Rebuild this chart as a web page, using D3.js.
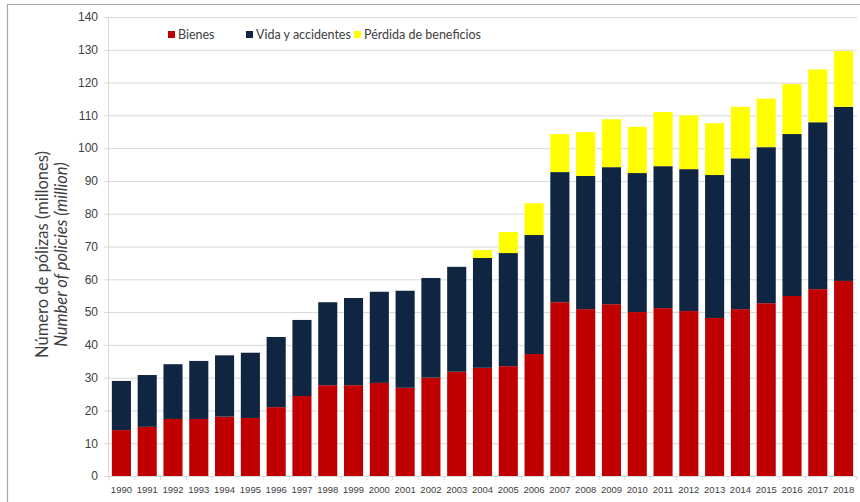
<!DOCTYPE html>
<html>
<head>
<meta charset="utf-8">
<script src="https://cdn.jsdelivr.net/npm/d3@7"></script>
<style>
  body { margin: 0; background: #fff; }
  svg { display: block; font-family: Lato, "Open Sans", sans-serif; }
</style>
</head>
<body>
<div id="chart"></div>
<script>
// data (millions of policies)
const years = ["1990","1991","1992","1993","1994","1995","1996","1997","1998","1999",
  "2000","2001","2002","2003","2004","2005","2006","2007","2008","2009",
  "2010","2011","2012","2013","2014","2015","2016","2017","2018"];
const bienes = [14, 15, 17.4, 17.4, 18.1, 17.7, 21, 24.4, 27.7, 27.7,
  28.4, 26.9, 30, 31.8, 33, 33.5, 37.2, 53, 50.9, 52.4,
  50, 51.2, 50.3, 48.2, 50.9, 52.7, 54.9, 57, 59.5];
const vida = [15, 15.8, 16.7, 17.7, 18.7, 19.9, 21.4, 23.2, 25.3, 26.6,
  27.8, 29.6, 30.4, 32, 33.5, 34.5, 36.3, 39.7, 40.6, 41.8,
  42.4, 43.3, 43.3, 43.6, 46, 47.6, 49.4, 50.9, 53.1];
const perdida = [0, 0, 0, 0, 0, 0, 0, 0, 0, 0,
  0, 0, 0, 0, 2.4, 6.4, 9.7, 11.6, 13.4, 14.6,
  14.1, 16.5, 16.4, 15.8, 15.7, 14.8, 15.2, 16.1, 17];
const seriesNames = ["Bienes", "Vida y accidentes", "Pérdida de beneficios"];
const colors = ["#c00000", "#0f2541", "#ffff00"];
const yTicks = d3.range(0, 141, 10);

const W = 860, H = 502;
const margin = { top: 17, right: 3, bottom: 26, left: 108 };
const width = W - margin.left - margin.right,
      height = H - margin.top - margin.bottom;

const svg = d3.select("#chart").append("svg")
  .attr("width", W).attr("height", H);

// outer frame (left and top edges visible)
svg.append("path")
  .attr("d", "M7.5,502 V4.5 H860")
  .attr("fill", "none").attr("stroke", "#a6a6a6").attr("stroke-width", 1.2);

const g = svg.append("g").attr("transform", `translate(${margin.left},${margin.top})`);

const x = d3.scaleBand().domain(years).range([0, width])
  .paddingInner(0.26).paddingOuter(0.15);
const y = d3.scaleLinear().domain([0, 140]).range([height, 0]);

// gridlines
g.append("g").selectAll("line").data(yTicks.filter(d => d > 0)).join("line")
  .attr("x1", 0).attr("x2", width)
  .attr("y1", d => y(d) + 0.5).attr("y2", d => y(d) + 0.5)
  .attr("stroke", "#d9d9d9").attr("stroke-width", 1);

// y axis
const yAxis = g.append("g").call(d3.axisLeft(y).tickValues(yTicks).tickSize(4).tickPadding(6));
yAxis.select(".domain").attr("stroke", "#d9d9d9");
yAxis.selectAll(".tick line").attr("stroke", "#d9d9d9");
yAxis.selectAll("text").attr("fill", "#404040").style("font-size", "12px");

// stacked bars
const rows = years.map((yr, i) => ({ year: yr, b: bienes[i], v: vida[i], p: perdida[i] }));
const stack = d3.stack().keys(["b", "v", "p"])(rows);

g.append("g").selectAll("g").data(stack).join("g")
  .attr("fill", (d, i) => colors[i])
  .selectAll("rect").data(d => d).join("rect")
  .attr("x", d => x(d.data.year))
  .attr("y", d => y(d[1]))
  .attr("width", x.bandwidth())
  .attr("height", d => y(d[0]) - y(d[1]));

// x axis
const xAxis = g.append("g").attr("transform", `translate(0,${height})`)
  .call(d3.axisBottom(x).tickSize(0).tickPadding(10));
xAxis.select(".domain").attr("stroke", "#d9d9d9");
xAxis.selectAll("text").attr("fill", "#404040").style("font-size", "9.5px");
// small ticks between categories
const sep = i => i * x.step() - x.step() * (x.paddingInner() / 2) + x.step() * x.paddingOuter() + 0.5;
g.append("g").selectAll("line").data(d3.range(years.length + 1)).join("line")
  .attr("x1", sep).attr("x2", sep)
  .attr("y1", height).attr("y2", height + 4)
  .attr("stroke", "#d9d9d9");

// y axis title
const title = svg.append("text")
  .attr("transform", `translate(48,${margin.top + height / 2 + 8}) rotate(-90)`)
  .attr("text-anchor", "middle").attr("fill", "#404040").style("font-size", "16.5px");
title.append("tspan").attr("x", 0).attr("dy", 0).text("Número de pólizas (millones)");
title.append("tspan").attr("x", 0).attr("dy", 19).style("font-style", "italic")
  .text("Number of policies (million)");

// legend
const legendX = [168, 246, 354];
const legend = svg.append("g").selectAll("g").data(seriesNames).join("g")
  .attr("transform", (d, i) => `translate(${legendX[i]},35)`);
legend.append("rect").attr("x", 0).attr("y", -4).attr("width", 7).attr("height", 7)
  .attr("fill", (d, i) => colors[i]);
legend.append("text").attr("x", 10).attr("y", 4)
  .attr("fill", "#404040").style("font-size", "12.5px").text(d => d);
</script>
</body>
</html>
